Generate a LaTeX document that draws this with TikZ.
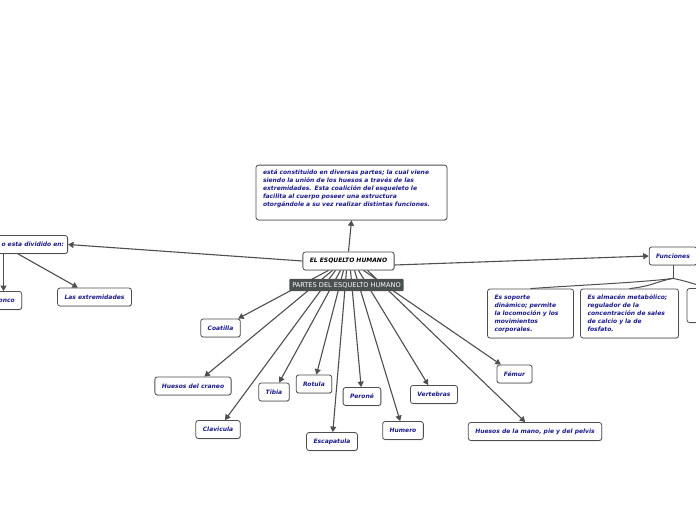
\documentclass[tikz,border=0pt]{standalone}
\usepackage{fontspec}
\usepackage{tikz}
\usetikzlibrary{arrows.meta, calc, shadows}
\newfontfamily\mapfont{DejaVu Sans}
\definecolor{mapBlue}{HTML}{1A1A8C}
\definecolor{mapLine}{HTML}{4F4F4F}
\definecolor{mapDark}{HTML}{4A4F4F}

\begin{document}
\begin{tikzpicture}[
  x=1pt, y=-1pt,
  font=\mapfont\bfseries\itshape\fontsize{6}{8}\selectfont,
  box/.style={draw=mapLine, fill=white, rounded corners=2.5pt, line width=0.8pt,
              text=mapBlue, inner xsep=7pt, inner ysep=2pt, minimum height=18pt,
              drop shadow={shadow xshift=0.6pt, shadow yshift=-0.9pt, opacity=0.3}},
  tag/.style={fill=mapDark, text=white, rounded corners=1pt, inner xsep=3pt,
              minimum height=12pt, font=\mapfont\fontsize{6.6}{7}\selectfont},
  arr/.style={-{Triangle[length=5.5pt,width=6pt]}, draw=mapLine, line width=1.1pt},
  tree/.style={draw=mapLine, line width=1pt},
]
\fill[white] (0,0) rectangle (696,520);
\clip (0,0) rectangle (696,520);

\node[box, text width=177pt, align=left, inner ysep=5pt] (desc) at (351.5,192.5)
  {está constituido en diversas partes; la cual viene\\siendo la unión de los huesos a través de las\\extremidades. Esta coalición del esqueleto le\\facilita al cuerpo poseer una estructura\\otorgándole a su vez realizar distintas funciones.\\\mbox{}};
\node[box, text=black] (esq) at (348.5,261) {EL ESQUELTO HUMANO};

\node[box, anchor=east, text width=86pt, align=right, inner xsep=3.5pt] (div) at (68,244.5) {o esta dividido en:};
\node[box] (tronco) at (3.5,300.5) {Tronco};
\node[box] (ext) at (94.5,297) {Las extremidades};

\node[box] (func) at (673,256) {Funciones};
\node[box, text width=72pt, align=left, minimum height=49pt] (f1) at (530.5,313.5)
  {Es soporte\\dinámico; permite\\la locomoción y los\\movimientos\\corporales.};
\node[box, text width=84pt, align=left, minimum height=49pt] (f2) at (629.5,313.5)
  {Es almacén metabólico;\\regulador de la\\concentración de sales\\de calcio y la de\\fosfato.};
\node[box, minimum width=60pt, minimum height=34pt] (f3) at (717,305.5) {};

\node[box] (coat) at (220.5,328) {Coatilla};
\node[box] (crane) at (193,386) {Huesos del craneo};
\node[box] (clav) at (218,429.5) {Clavicula};
\node[box] (tibia) at (274,392) {Tibia};
\node[box] (rot) at (314,384) {Rotula};
\node[box] (esc) at (332,441.5) {Escapatula};
\node[box] (per) at (362,396.5) {Peroné};
\node[box] (hum) at (403,430.5) {Humero};
\node[box] (vert) at (434,394.5) {Vertebras};
\node[box] (fem) at (514.5,374) {Fémur};
\node[box] (mano) at (535,431.5) {Huesos de la mano, pie y del pelvis};

\draw[arr] (esq.north) -- (desc.south);
\draw[arr] (esq.west) -- (div.east);
\draw[arr] (div.south -| tronco.north) -- (tronco.north);
\draw[arr] ($(div.south east)+(-50,0)$) -- (ext);
\draw[arr] ($(esq.east)+(0,4)$) -- (func.west);

\draw[tree] (func.south) -- ++(0,13) coordinate (fj);
\draw[tree] (fj) .. controls +(-30,4) and +(40,-3) .. (f1.north);
\draw[tree] (fj) .. controls +(-20,4) and +(25,-3) .. (f2.north);
\draw[tree] (fj) .. controls +(20,4) and +(-25,-3) .. (f3.north);

\foreach \dx/\n in {-20/coat, -16/crane, -13/clav, -8/tibia, -5/rot, -2/esc,
                    2/per, 6/hum, 10/vert, 15/fem, 19/mano}
  \draw[arr] ($(esq.south)+(\dx,0)$) -- (\n);

\node[tag] (partes) at (346.5,285) {PARTES DEL ESQUELTO HUMANO};
\end{tikzpicture}
\end{document}
